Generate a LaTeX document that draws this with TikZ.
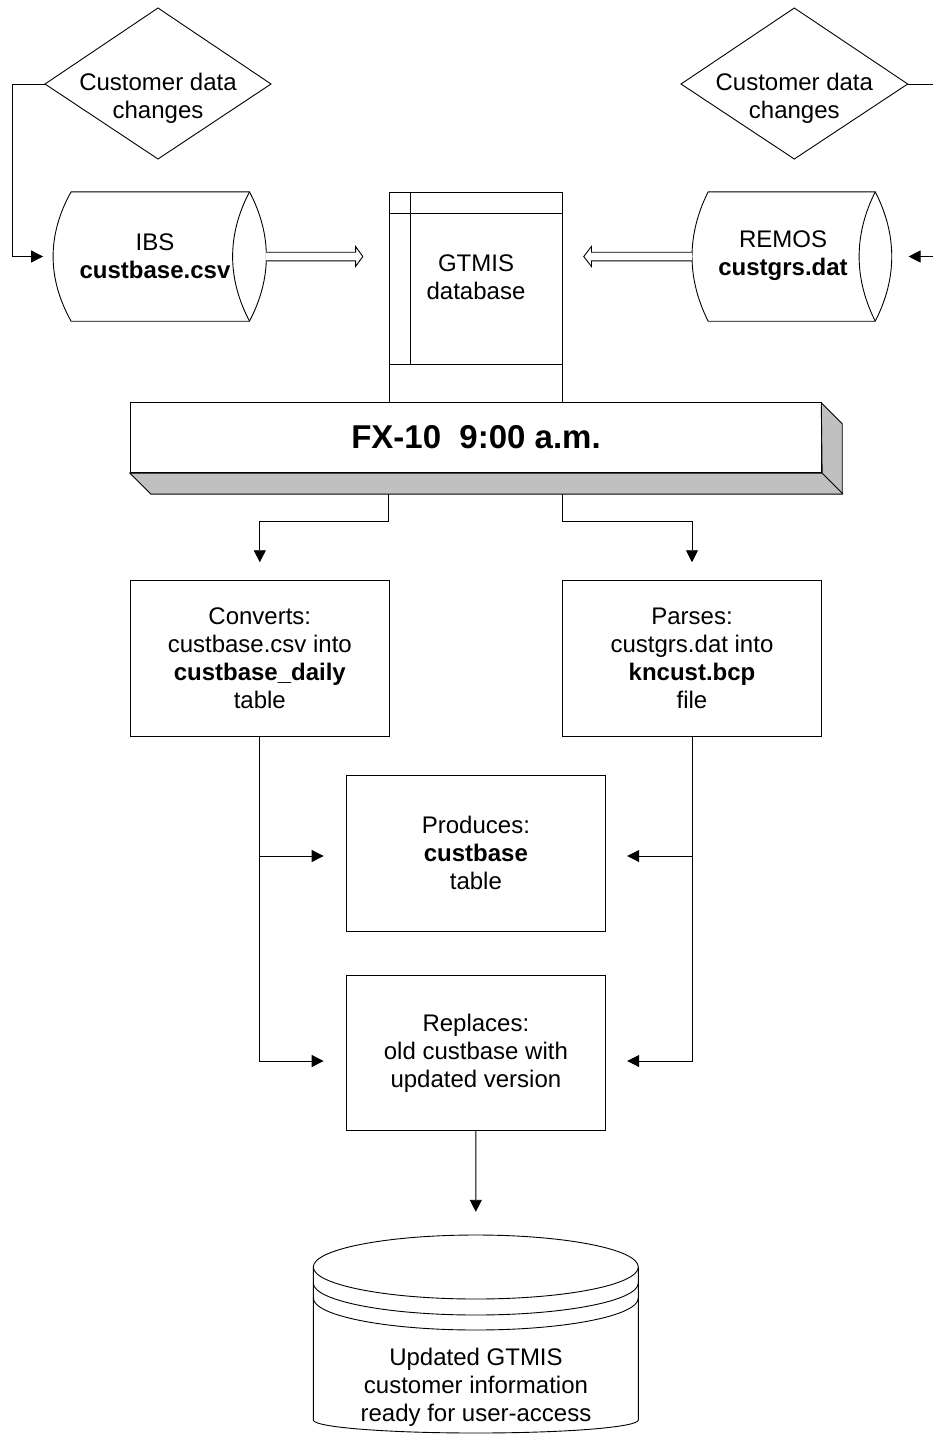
\documentclass[tikz,border=0pt]{standalone}
\usepackage{fontspec}
\setmainfont{Liberation Sans}
\usetikzlibrary{arrows.meta,calc}
\definecolor{shade}{HTML}{C0C0C0}
\begin{document}
\begin{tikzpicture}[x=1pt,y=-1pt,
  lw/.style={line width=0.9pt},
  arr/.style={line width=0.9pt,-{Triangle[length=12pt,width=12pt]}},
  txt/.style={font=\fontsize{24}{28}\selectfont, align=center, inner sep=0pt},
  procbox/.style={draw, line width=0.9pt, fill=white, minimum height=156pt, inner sep=0pt, txt},
  blank/.style={inner sep=0pt, minimum width=#1},
]
\useasboundingbox (0,0) rectangle (933,1435);
\clip (0,0) rectangle (933,1435);

% ---------- diamonds ----------
\coordinate (ldW) at (45,84);  \coordinate (ldN) at (158,8);
\coordinate (ldE) at (271,84); \coordinate (ldS) at (158,159);
\draw[lw] (ldW) -- (ldN) -- (ldE) -- (ldS) -- cycle;
\node[txt] (ldt) at (158,98) {Customer data\\changes};

\coordinate (rdW) at (681,84);   \coordinate (rdN) at (794.3,8);
\coordinate (rdE) at (907.7,84); \coordinate (rdS) at (794.3,159);
\draw[lw] (rdW) -- (rdN) -- (rdE) -- (rdS) -- cycle;
\node[txt] (rdt) at (794.3,98) {Customer data\\changes};

% ---------- IBS cylinder ----------
\node[inner sep=0pt, minimum width=178pt, minimum height=129pt] (ibs) at (160.3,256.5) {};
\draw[lw, fill=white] (ibs.north west) -- (ibs.north east)
  .. controls +(22.5,43) and +(22.5,-43) .. (ibs.south east)
  -- (ibs.south west)
  .. controls +(-24,-43) and +(-24,43) .. (ibs.north west);
\draw[lw] (ibs.north east) .. controls +(-22.5,43) and +(-22.5,-43) .. (ibs.south east);
\node[txt] (ibst) at (155,256) {IBS\\\textbf{custbase.csv}};

% ---------- REMOS cylinder ----------
\node[inner sep=0pt, minimum width=166.7pt, minimum height=129pt] (remos) at (791.7,256.5) {};
\draw[lw, fill=white] (remos.north west) -- (remos.north east)
  .. controls +(22,43) and +(22,-43) .. (remos.south east)
  -- (remos.south west)
  .. controls +(-21.5,-43) and +(-21.5,43) .. (remos.north west);
\draw[lw] (remos.north east) .. controls +(-21.5,43) and +(-21.5,-43) .. (remos.south east);
\node[txt] (remost) at (783,256) {REMOS\\\textbf{custgrs.dat}};

% ---------- GTMIS database ----------
\node[draw, lw, fill=white, inner sep=0pt, minimum width=173pt, minimum height=210pt] (gtmis) at (475.8,297) {};
\draw[lw] ([yshift=-21.7pt]gtmis.north west) -- ([yshift=-21.7pt]gtmis.north east);
\draw[lw] ([xshift=21.4pt]gtmis.north west) -- ++(0,172.3);
\draw[lw] ([yshift=37.7pt]gtmis.south west) -- ([yshift=37.7pt]gtmis.south east);
\node[txt] (gtmist) at (476,277) {GTMIS\\database};

% ---------- loops from diamonds ----------
\draw[arr] (ldW) -- ++(-33,0) |- ([xshift=-28pt]ibs.west);
\draw[arr] (rdE) -- ++(37,0) |- ([xshift=33.3pt]remos.east);

% ---------- hollow arrows ----------
\draw[lw, fill=white] let \p1=($(ibs.east)+(16.4,0)$), \p2=([xshift=-26pt]gtmis.west) in
  (\x1,\y1+4.3pt) -- (\x2-7.3pt,\y1+4.3pt) -- (\x2-7.3pt,\y1+10pt) -- (\x2,\y1)
  -- (\x2-7.3pt,\y1-10pt) -- (\x2-7.3pt,\y1-4.3pt) -- (\x1,\y1-4.3pt);
\draw[lw, fill=white] let \p1=($(remos.west)+(-16,0)$), \p2=([xshift=21pt]gtmis.east) in
  (\x1,\y1+4.3pt) -- (\x2+7.7pt,\y1+4.3pt) -- (\x2+7.7pt,\y1+10pt) -- (\x2,\y1)
  -- (\x2+7.7pt,\y1-10pt) -- (\x2+7.7pt,\y1-4.3pt) -- (\x1,\y1-4.3pt);

% ---------- process boxes ----------
\node[procbox, minimum width=259pt] (converts) at (259.8,658.7)
  {Converts:\\custbase.csv into\\\textbf{custbase\_daily}\\table};
\node[procbox, minimum width=259.4pt] (parses) at (692,658.7)
  {Parses:\\custgrs.dat into\\\textbf{kncust.bcp}\\file};
\node[procbox, minimum width=259.7pt] (produces) at (475.9,853)
  {Produces:\\\textbf{custbase}\\table};
\node[procbox, minimum width=259.7pt, minimum height=155.4pt] (replaces) at (475.9,1053)
  {Replaces:\\old custbase with\\updated version};

% ---------- connectors from GTMIS (drawn before the bar) ----------
\draw[arr] (gtmis.south west) -- ++(0,119) -| ([yshift=18pt]converts.north);
\draw[arr] (gtmis.south east) -- ++(0,119) -| ([yshift=18pt]parses.north);

% ---------- FX-10 bar ----------
\node[draw, lw, fill=white, inner sep=0pt, minimum width=691.4pt, minimum height=70.4pt,
  font=\fontsize{33}{38}\selectfont\bfseries] (bar) at (476,437.5) {FX-10\ \ 9:00 a.m.};
\draw[lw, fill=shade] (bar.south west) -- ++(21,21) -- ++(691.4,0) -- ++(0,-70.4)
  -- ++(-21,-21) -- (bar.south east) -- cycle;
\draw[lw] (bar.south east) -- ++(21,21);

% ---------- branch connectors ----------
\draw[arr] (converts.south) |- ([xshift=-22pt,yshift=-8pt]replaces.west);
\draw[arr] ($(converts.south |- produces.west)+(0,3)$) -- ([xshift=-22pt,yshift=-3pt]produces.west);
\draw[arr] (parses.south) |- ([xshift=21pt,yshift=-8pt]replaces.east);
\draw[arr] ($(parses.south |- produces.east)+(0,3)$) -- ([xshift=21pt,yshift=-3pt]produces.east);

% ---------- final database ----------
\node[inner sep=0pt, minimum width=325pt, minimum height=198pt] (db) at (475.8,1334) {};
\draw[arr] (replaces.south) -- ([yshift=23pt]db.north);
\draw[lw, fill=white] (313.3,1267) -- (313.3,1420)
  arc[start angle=180, end angle=360, x radius=162.5pt, y radius=13pt] -- (638.3,1267);
\draw[lw, fill=white] (475.8,1267) ellipse[x radius=162.5pt, y radius=32pt];
\draw[lw] (313.3,1283) arc[start angle=180, end angle=360, x radius=162.5pt, y radius=32pt];
\draw[lw] (313.3,1298) arc[start angle=180, end angle=360, x radius=162.5pt, y radius=32pt];
\node[txt] (dbt) at (476,1387) {Updated GTMIS\\customer information\\ready for user-access};
\end{tikzpicture}
\end{document}
